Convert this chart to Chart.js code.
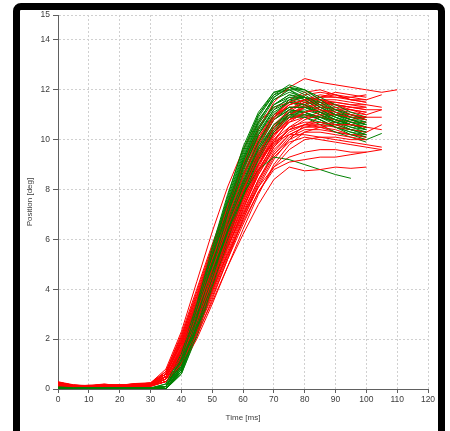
<!DOCTYPE html>
<html><head><meta charset="utf-8">
<script src="https://cdn.jsdelivr.net/npm/chart.js@4/dist/chart.umd.min.js"></script>
<style>
html,body{margin:0;padding:0;background:#fff;}
#wrap{position:relative;width:450px;height:431px;overflow:hidden;background:#fff;}
#c{position:absolute;left:0;top:0;}
#frame{position:absolute;left:13px;top:3px;width:432px;height:436px;border:7px solid #000;border-radius:8px;box-sizing:border-box;pointer-events:none;}
</style></head><body>
<div id="wrap"><canvas id="c" width="450" height="431" style="width:450px;height:431px"></canvas><div id="frame"></div></div>
<script>
// sample times (ms)
const times = [0,5,10,15,20,25,30,35,40,45,50,55,60,65,70,75,80,85,90,95,100,105,110];
const xTickStep = 10;
const yTicks = [0,2,4,6,8,10,12,14,15];
const xTitle = 'Time [ms]';
const yTitle = 'Position [deg]';

// red trials (deg), values at the sample times above
const redCurves = [
  [0.22,0.12,0.10,0.14,0.12,0.17,0.15,0.5,1.6,3.1,4.8,6.5,8.0,9.3,10.2,10.8,11.1,11.2,11.1,11.0,10.9],
  [0.15,0.08,0.12,0.10,0.16,0.12,0.18,0.4,1.3,2.7,4.3,5.9,7.4,8.7,9.7,10.3,10.6,10.7,10.6,10.6,10.5],
  [0.28,0.14,0.08,0.18,0.10,0.20,0.22,0.6,1.9,3.5,5.2,6.9,8.5,9.8,10.8,11.4,11.6,11.6,11.5,11.4,11.3],
  [0.10,0.06,0.09,0.07,0.11,0.08,0.10,0.3,1.0,2.3,3.7,5.2,6.6,7.9,8.9,9.6,10.0,10.1,10.1,10.0,10.0],
  [0.18,0.10,0.14,0.20,0.13,0.15,0.20,0.5,1.5,2.9,4.5,6.1,7.6,8.8,9.8,10.4,10.8,11.0,11.0,10.9,10.8],
  [0.25,0.15,0.12,0.16,0.14,0.19,0.24,0.6,2.0,3.7,5.5,7.3,9.0,10.4,11.5,12.1,12.45,12.3,12.2,12.1,12.0,11.9,12.0],
  [0.12,0.08,0.11,0.09,0.12,0.10,0.14,0.3,1.0,2.2,3.5,4.9,6.2,7.4,8.4,8.9,8.75,8.8,8.9,8.85,8.9],
  [0.20,0.11,0.13,0.12,0.15,0.14,0.17,0.4,1.2,2.6,4.0,5.4,6.7,7.9,8.8,9.1,9.2,9.3,9.3,9.4,9.5,9.6],
  [0.17,0.09,0.12,0.15,0.11,0.16,0.19,0.5,1.7,3.3,5.0,6.7,8.2,9.5,10.4,11.0,11.3,11.4,11.4,11.3,11.2,11.2],
  [0.24,0.13,0.09,0.13,0.15,0.18,0.21,0.4,1.4,2.8,4.4,6.0,7.5,8.9,10.0,10.7,11.1,11.3,11.3,11.2,11.1],
  [0.14,0.10,0.15,0.11,0.13,0.12,0.16,0.7,2.1,3.8,5.6,7.3,8.8,10.0,10.9,11.4,11.6,11.5,11.4,11.3,11.3],
  [0.19,0.12,0.08,0.16,0.10,0.14,0.13,0.3,1.1,2.4,3.9,5.5,7.0,8.4,9.5,10.2,10.5,10.6,10.5,10.4,10.3,10.6],
  [0.26,0.16,0.11,0.12,0.17,0.13,0.18,0.5,1.6,3.0,4.6,6.3,7.9,9.3,10.5,11.2,11.6,11.8,11.7,11.7,11.8],
  [0.13,0.07,0.10,0.12,0.09,0.15,0.12,0.4,1.3,2.6,4.1,5.7,7.1,8.4,9.4,10.0,10.3,10.3,10.2,10.1,10.0],
  [0.21,0.14,0.12,0.18,0.12,0.16,0.20,0.6,1.8,3.4,5.1,6.8,8.3,9.6,10.6,11.2,11.5,11.5,11.4,11.2,11.0],
  [0.16,0.09,0.13,0.10,0.14,0.11,0.15,0.5,1.5,2.8,4.2,5.7,7.2,8.6,9.7,10.5,10.9,11.1,11.2,11.2,11.1],
  [0.11,0.08,0.10,0.13,0.10,0.12,0.11,0.3,0.9,2.0,3.4,4.9,6.4,7.8,9.0,9.8,10.3,10.5,10.6,10.6,10.5],
  [0.23,0.13,0.14,0.15,0.16,0.20,0.23,0.6,1.9,3.6,5.4,7.1,8.6,9.9,10.9,11.6,11.9,12.0,11.8,11.7,11.6,11.8],
  [0.18,0.11,0.09,0.14,0.12,0.13,0.16,0.4,1.4,2.9,4.6,6.2,7.7,9.0,10.0,10.5,10.7,10.7,10.6,10.4,10.3],
  [0.27,0.15,0.12,0.17,0.13,0.18,0.19,0.5,1.6,3.1,4.7,6.3,7.8,9.0,9.9,10.4,10.6,10.5,10.4,10.2,10.1],
  [0.14,0.09,0.11,0.10,0.13,0.14,0.14,0.4,1.2,2.5,4.0,5.6,7.2,8.7,9.9,10.8,11.3,11.5,11.5,11.4,11.4],
  [0.20,0.12,0.13,0.16,0.11,0.15,0.18,0.5,1.7,3.2,4.9,6.6,8.1,9.4,10.3,10.8,11.0,10.9,10.8,10.7,10.7],
  [0.12,0.07,0.09,0.11,0.10,0.09,0.12,0.3,1.0,2.1,3.6,5.2,6.8,8.2,9.3,9.9,10.1,10.0,9.9,9.8,9.7,9.6],
  [0.25,0.14,0.11,0.19,0.14,0.21,0.22,0.6,2.0,3.7,5.5,7.2,8.8,10.1,11.0,11.5,11.7,11.6,11.4,11.3,11.2],
  [0.17,0.10,0.12,0.13,0.15,0.12,0.17,0.5,1.4,2.7,4.3,6.0,7.6,9.0,10.2,11.0,11.4,11.6,11.6,11.5,11.4,11.3],
  [0.15,0.09,0.10,0.12,0.11,0.13,0.13,0.4,1.3,2.7,4.2,5.7,7.0,8.1,8.9,9.3,9.5,9.6,9.6,9.5,9.5],
  [0.22,0.13,0.15,0.14,0.18,0.16,0.20,0.5,1.6,3.1,4.8,6.4,7.9,9.2,10.3,11.1,11.5,11.7,11.9,11.8,11.7],
  [0.29,0.17,0.13,0.18,0.15,0.22,0.25,0.7,2.2,4.0,5.8,7.5,9.0,10.2,11.0,11.3,11.3,11.1,11.0,10.9,10.9],
  [0.19,0.11,0.12,0.13,0.14,0.17,0.19,0.5,1.5,3.0,4.7,6.4,8.0,9.4,10.5,11.2,11.5,11.4,11.2,11.0,10.9,10.9],
  [0.16,0.10,0.11,0.15,0.12,0.14,0.16,0.4,1.2,2.5,4.1,5.8,7.4,8.8,9.8,10.4,10.6,10.6,10.7,10.8,10.9],
  [0.21,0.12,0.11,0.15,0.13,0.18,0.24,0.8,2.3,4.3,6.3,8.1,9.6,10.7,11.3,11.5,11.4,11.2,11.0,10.9,10.8],
  [0.17,0.10,0.13,0.12,0.14,0.16,0.20,0.6,1.8,3.3,4.9,6.5,8.0,9.3,10.2,10.7,10.9,10.9,10.8,10.6,10.5,10.4],
  [0.13,0.08,0.10,0.11,0.12,0.11,0.13,0.3,1.1,2.3,3.8,5.3,6.8,8.1,9.2,10.0,10.6,10.9,11.0,11.0,10.9],
  [0.24,0.14,0.12,0.17,0.14,0.19,0.22,0.6,1.9,3.5,5.3,7.0,8.6,9.9,10.9,11.5,11.8,11.9,11.8,11.6,11.5],
  [0.16,0.09,0.12,0.14,0.12,0.15,0.17,0.4,1.3,2.6,4.2,5.8,7.3,8.6,9.6,10.2,10.5,10.5,10.3,10.2,10.1],
  [0.20,0.11,0.10,0.13,0.15,0.14,0.18,0.5,1.6,3.0,4.6,6.2,7.7,9.1,10.3,11.0,11.3,11.3,11.2,11.1,11.0,11.2],
  [0.26,0.15,0.13,0.16,0.14,0.20,0.23,0.7,2.1,3.9,5.7,7.4,8.9,10.1,10.9,11.4,11.6,11.7,11.7,11.6,11.6],
  [0.14,0.08,0.11,0.10,0.12,0.12,0.14,0.4,1.2,2.4,3.9,5.4,6.9,8.3,9.4,10.1,10.4,10.4,10.3,10.2,10.2],
  [0.18,0.12,0.13,0.14,0.13,0.16,0.19,0.5,1.5,3.0,4.6,6.2,7.7,9.0,10.1,10.9,11.4,11.7,11.8,11.6,11.5],
  [0.22,0.13,0.11,0.16,0.12,0.17,0.21,0.6,1.8,3.4,5.1,6.7,8.1,9.2,9.9,10.2,10.2,10.1,10.0,9.9,9.8,9.7]
];

// green trials (deg)
const greenCurves = [
  [0.06,0.04,0.05,0.04,0.05,0.04,0.03,0.1,1.2,3.2,5.4,7.5,9.4,10.9,11.8,12.2,12.0,11.6,11.2,10.9,10.7],
  [0.08,0.05,0.04,0.06,0.04,0.06,0.05,0.0,0.9,2.8,4.9,7.0,8.9,10.4,11.4,11.8,11.7,11.3,11.0,10.8,10.6],
  [0.04,0.03,0.05,0.03,0.04,0.03,0.02,0.2,1.4,3.4,5.6,7.7,9.7,11.1,11.9,12.1,11.8,11.4,11.0,10.7,10.5],
  [0.07,0.05,0.06,0.05,0.06,0.05,0.04,0.0,0.7,2.4,4.4,6.4,8.2,9.7,10.8,11.3,11.3,11.1,10.9,10.7,10.6],
  [0.05,0.04,0.04,0.05,0.03,0.05,0.03,0.1,1.0,2.9,5.0,7.0,8.8,10.2,11.1,11.5,11.4,11.1,10.8,10.6,10.4],
  [0.09,0.06,0.05,0.07,0.05,0.06,0.04,0.1,1.1,3.0,5.1,7.2,9.1,10.6,11.6,12.0,12.0,11.7,11.4,11.1,10.9],
  [0.05,0.03,0.04,0.04,0.05,0.04,0.03,0.0,0.8,2.6,4.6,6.6,8.4,9.9,11.0,11.6,11.7,11.5,11.2,11.0,10.8],
  [0.06,0.05,0.03,0.05,0.04,0.05,0.04,0.0,0.6,2.2,4.1,6.0,7.8,9.3,10.4,11.0,11.1,10.9,10.7,10.5,10.3],
  [0.07,0.04,0.05,0.05,0.06,0.04,0.04,0.1,0.9,2.6,4.5,6.3,7.8,8.8,9.3,9.2,9.0,8.8,8.6,8.45],
  [0.05,0.04,0.05,0.03,0.05,0.04,0.03,0.0,0.8,2.5,4.5,6.5,8.3,9.8,10.8,11.2,11.1,10.8,10.5,10.2,10.0,10.25],
  [0.08,0.05,0.06,0.05,0.04,0.06,0.05,0.1,1.3,3.3,5.5,7.6,9.5,11.0,11.8,12.0,11.6,11.2,10.9,10.6,10.4],
  [0.04,0.04,0.03,0.04,0.05,0.03,0.02,0.0,0.7,2.3,4.3,6.3,8.1,9.6,10.6,11.1,11.1,10.9,10.6,10.4,10.2],
  [0.06,0.05,0.04,0.06,0.04,0.05,0.04,0.1,1.0,2.8,4.9,6.9,8.7,10.2,11.2,11.7,11.7,11.4,11.1,10.9,10.8],
  [0.07,0.04,0.06,0.04,0.05,0.05,0.03,0.0,0.9,2.7,4.7,6.7,8.5,9.9,10.8,11.2,11.1,10.8,10.5,10.3,10.1],
  [0.05,0.05,0.04,0.05,0.04,0.04,0.04,0.1,1.1,3.1,5.2,7.3,9.2,10.7,11.7,12.1,11.9,11.5,11.1,10.8,10.6],
  [0.06,0.03,0.05,0.04,0.06,0.04,0.03,0.0,0.8,2.5,4.5,6.4,8.2,9.6,10.5,10.9,10.9,10.7,10.5,10.4,10.3],
  [0.08,0.06,0.05,0.05,0.05,0.06,0.05,0.1,1.2,3.1,5.3,7.4,9.3,10.8,11.6,11.9,11.7,11.3,11.0,10.8,10.7],
  [0.05,0.04,0.04,0.03,0.04,0.03,0.03,0.0,0.6,2.1,4.0,5.9,7.7,9.2,10.3,10.9,11.0,10.9,10.7,10.6,10.5],
  [0.07,0.05,0.05,0.06,0.05,0.05,0.04,0.1,1.0,2.9,5.0,7.1,9.0,10.5,11.4,11.8,11.6,11.2,10.9,10.7,10.5],
  [0.04,0.03,0.04,0.04,0.03,0.04,0.02,0.0,0.7,2.4,4.3,6.2,8.0,9.5,10.5,11.0,11.0,10.8,10.5,10.3,10.2],
  [0.06,0.04,0.05,0.05,0.04,0.05,0.04,0.1,1.1,3.0,5.1,7.1,9.0,10.4,11.3,11.6,11.4,11.0,10.7,10.5,10.4],
  [0.05,0.04,0.03,0.05,0.05,0.04,0.03,0.0,0.9,2.7,4.8,6.8,8.6,10.0,10.9,11.3,11.3,11.1,10.8,10.6,10.5],
  [0.06,0.05,0.04,0.05,0.05,0.04,0.04,0.1,1.2,3.2,5.3,7.3,9.1,10.5,11.4,11.7,11.5,11.1,10.8,10.6,10.5],
  [0.05,0.04,0.05,0.04,0.04,0.05,0.03,0.0,0.8,2.6,4.6,6.5,8.3,9.7,10.6,11.0,10.9,10.6,10.3,10.1,9.9],
  [0.07,0.05,0.04,0.06,0.05,0.05,0.04,0.1,1.1,3.0,5.2,7.3,9.2,10.7,11.7,12.1,12.0,11.6,11.3,11.0,10.8],
  [0.04,0.03,0.04,0.03,0.04,0.04,0.02,0.0,0.7,2.3,4.2,6.1,7.9,9.4,10.5,11.1,11.2,11.0,10.8,10.6,10.4],
  [0.06,0.04,0.05,0.05,0.05,0.04,0.03,0.1,1.0,2.9,5.0,7.0,8.9,10.3,11.2,11.5,11.3,11.0,10.7,10.4,10.2],
  [0.08,0.05,0.05,0.06,0.04,0.06,0.05,0.2,1.5,3.5,5.7,7.8,9.6,11.0,11.9,12.0,11.7,11.3,11.0,10.8,10.6]
];

const RED = '#ff0000', GREEN = '#008000';
const toPts = ys => ys.map((y, i) => ({x: times[i], y: y}));
const datasets = [];
const n = Math.max(redCurves.length, greenCurves.length);
for (let i = 0; i < n; i++) {
  if (i < greenCurves.length) datasets.push({data: toPts(greenCurves[i]), borderColor: GREEN});
  if (i < redCurves.length) datasets.push({data: toPts(redCurves[i]), borderColor: RED});
}

const tickFont = {family: "'Liberation Sans', Arial, sans-serif", size: 8.5};
const titleFont = {family: "'Liberation Sans', Arial, sans-serif", size: 8};
const axisCol = '#606060', gridCol = '#d0d0d0', txtCol = '#3c3c3c';

new Chart(document.getElementById('c'), {
  type: 'line',
  data: {datasets},
  options: {
    responsive: false,
    animation: false,
    layout: {padding: {left: 20, top: 15, right: 22, bottom: 4}},
    plugins: {legend: {display: false}, tooltip: {enabled: false}, title: {display: false}},
    elements: {point: {radius: 0}, line: {borderWidth: 1, tension: 0, fill: false}},
    scales: {
      x: {
        type: 'linear', min: 0, max: 120,
        ticks: {stepSize: xTickStep, padding: 2, color: txtCol, font: tickFont, maxRotation: 0},
        grid: {color: gridCol, tickColor: axisCol, tickLength: 4, tickBorderDash: []},
        border: {color: axisCol, dash: [2, 2], width: 1},
        title: {display: true, text: xTitle, color: txtCol, font: titleFont, padding: {top: 0, bottom: 4}},
        afterFit(s) { s.height = 38; }
      },
      y: {
        type: 'linear', min: 0, max: 15,
        afterBuildTicks(s) { s.ticks = yTicks.map(v => ({value: v})); },
        ticks: {padding: 3, color: txtCol, font: tickFont},
        grid: {color: gridCol, tickColor: axisCol, tickLength: 5, tickBorderDash: []},
        border: {color: axisCol, dash: [2, 2], width: 1},
        title: {display: true, text: yTitle, color: txtCol, font: titleFont, padding: {top: 5, bottom: 0}},
        afterFit(s) { s.width = 38; }
      }
    }
  }
});
</script>
</body></html>
